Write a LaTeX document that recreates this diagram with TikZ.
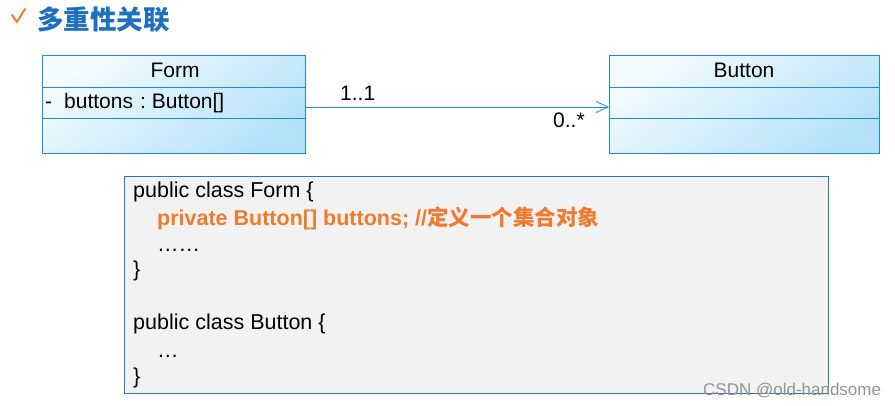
\documentclass[tikz,border=0pt]{standalone}
\usepackage{fontspec}
\setmainfont{Liberation Sans}
\newfontfamily\cjk{Noto Sans CJK SC}
\usetikzlibrary{arrows.meta}
\definecolor{umlblue}{HTML}{1E88E5}
\definecolor{titleblue}{HTML}{1F6FBF}
\definecolor{codeorange}{HTML}{F07A30}
\definecolor{codeborder}{HTML}{2E75B6}
\definecolor{codebg}{HTML}{F2F2F2}
\definecolor{shadeA}{HTML}{F4FBFE}
\definecolor{shadeB}{HTML}{B4E2FA}
\tikzset{
  classbox/.style={draw=umlblue, line width=0.9pt, top color=shadeA, bottom color=shadeB, shading angle=35, minimum width=263pt, minimum height=98pt, anchor=north west, inner sep=0pt},
  divider/.style={draw=umlblue, line width=0.9pt},
  uml/.style={font=\fontsize{21}{24}\selectfont, text=black},
  assoc/.style={draw=umlblue, line width=0.9pt, -{Straight Barb[length=12pt,width=11pt,line width=0.8pt]}},
  codetxt/.style={font=\fontsize{21.5}{24}\selectfont, anchor=base west, inner sep=0pt},
}
\begin{document}
\begin{tikzpicture}[x=1pt,y=-1pt]
\useasboundingbox (0,0) rectangle (895,406);
% title
\draw[codeorange, line width=2pt, line cap=round, line join=round] (12,15) -- (17,22) -- (25,9);
\node[anchor=west, inner sep=0pt, text=titleblue, font=\cjk\bfseries\fontsize{26.5}{29}\selectfont] (title) at (37,20) {多重性关联};
% Form class
\node[classbox] (form) at (42,55) {};
\draw[divider] (42,87) -- (305,87);
\draw[divider] (42,118) -- (305,118);
\node[uml] (formname) at (175,70) {Form};
\node[uml, anchor=base west, inner sep=0pt] (formattr) at (45,109) {-\hspace{12pt}buttons\hspace{7pt}:\hspace{6pt}Button[]};
% Button class
\node[classbox, minimum width=270pt] (button) at (609,55) {};
\draw[divider] (609,87) -- (879,87);
\draw[divider] (609,118) -- (879,118);
\node[uml] (buttonname) at (744,70) {Button};
% association
\coordinate (a) at (305,107);
\coordinate (b) at (609,107);
\draw[assoc] (a) -- (b);
\node[uml, anchor=base west, inner sep=0pt] (m1) at (340,101) {1..1};
\node[uml, anchor=base west, inner sep=0pt] (m2) at (553,128) {0..*};
% code box
\node[draw=codeborder, fill=codebg, line width=0.9pt, minimum width=704pt, minimum height=217pt, anchor=north west, inner sep=0pt] (code) at (124,176) {};
\node[codetxt] (l1) at (133,198) {public class Form \{};
\node[codetxt, text=codeorange, font=\bfseries\fontsize{21.5}{24}\selectfont] (l2) at (157,226) {private Button[] buttons; //{\cjk\bfseries 定义一个集合对象}};
\node[codetxt] (l3) at (157,252) {……};
\node[codetxt] (l4) at (133,277) {\}};
\node[codetxt] (l5) at (133,330) {public class Button \{};
\node[codetxt] (l6) at (157,357) {…};
\node[codetxt] (l7) at (133,383) {\}};
% watermark
\node[anchor=base west, inner sep=0pt, text=gray!85, font=\fontsize{17}{19}\selectfont] (wm) at (703,395) {CSDN @old-handsome};
\end{tikzpicture}
\end{document}
